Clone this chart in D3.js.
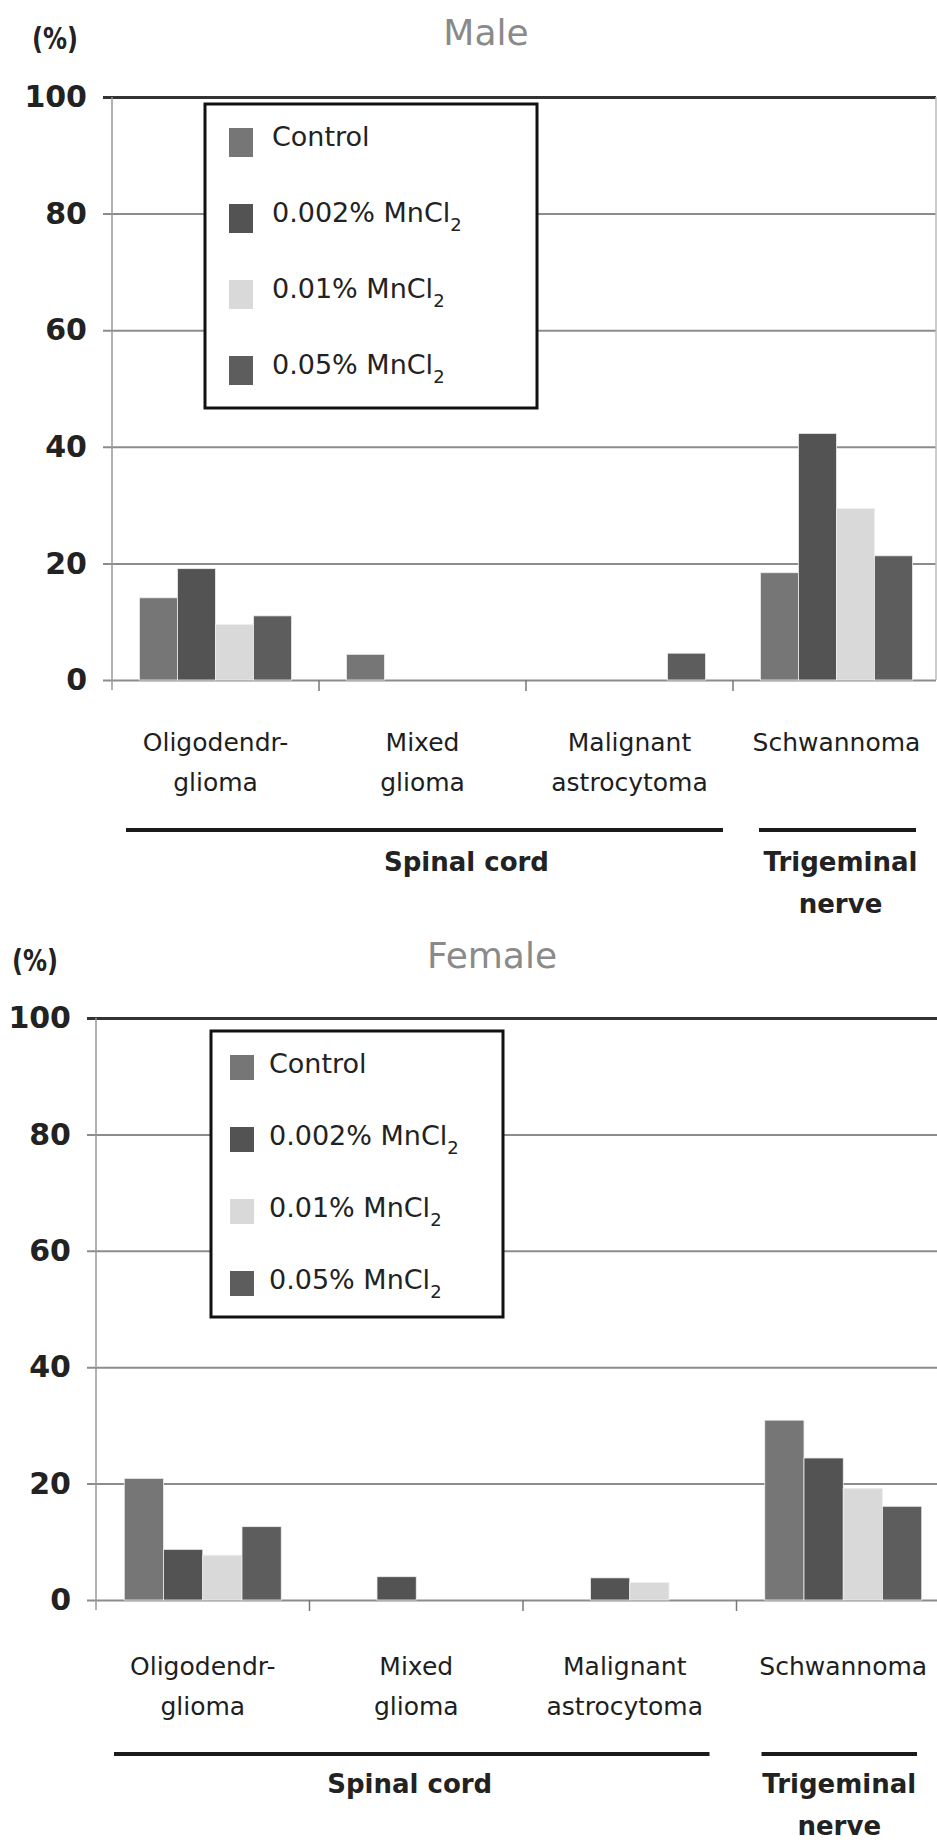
<!DOCTYPE html>
<html>
<head>
<meta charset="utf-8">
<script src="https://cdn.jsdelivr.net/npm/d3@7"></script>
<style>
  body { margin: 0; background: #fff; }
  svg { display: block; }
</style>
</head>
<body>
<svg id="chart" width="937" height="1843"></svg>
<script>
// --- DATA ---
const categories = ["Oligodendr-glioma", "Mixed glioma", "Malignant astrocytoma", "Schwannoma"];
const categoryLabels = [["Oligodendr-", "glioma"], ["Mixed", "glioma"], ["Malignant", "astrocytoma"], ["Schwannoma"]];
const seriesNames = ["Control", "0.002% MnCl", "0.01% MnCl", "0.05% MnCl"];
const seriesSub = ["", "2", "2", "2"];
const yTicks = [0, 20, 40, 60, 80, 100];

const maleControl = [14.1, 4.4, 0, 18.4];
const male002 = [19.1, 0, 0, 42.3];
const male001 = [9.5, 0, 0, 29.4];
const male005 = [11.0, 0, 4.6, 21.3];

const femaleControl = [20.9, 0, 0, 30.9];
const female002 = [8.7, 4.0, 3.8, 24.4];
const female001 = [7.7, 0, 3.0, 19.2];
const female005 = [12.6, 0, 0, 16.1];

const groupNames = [["Spinal cord"], ["Trigeminal", "nerve"]];
const groupSpans = [[0, 2], [3, 3]];

const colors = ["#767676", "#535353", "#d9d9d9", "#5d5d5d"];
const FONT = "'DejaVu Sans', Verdana, sans-serif";

const svg = d3.select("#chart");

function drawPanel(p) {
  const g = svg.append("g");

  const x = d3.scaleBand().domain(categories).range([p.left, p.right]).padding(0);
  const xs = d3.scaleBand().domain(seriesNames).range([0, x.bandwidth()]).paddingInner(0).paddingOuter(0.72);
  const y = d3.scaleLinear().domain([0, 100]).range([p.bottom, p.top]);

  // --- TITLE + UNIT ---
  g.append("text")
    .attr("x", p.titleX).attr("y", p.titleY)
    .attr("text-anchor", "middle")
    .attr("font-family", FONT).attr("font-size", 36)
    .attr("fill", "#8a8a8a")
    .text(p.title);

  g.append("text")
    .attr("x", p.unitX).attr("y", p.unitY)
    .attr("font-family", FONT).attr("font-size", 31).attr("font-weight", "bold")
    .attr("fill", "#222")
    .attr("textLength", 46).attr("lengthAdjust", "spacingAndGlyphs")
    .text("(%)");

  // --- GRID / Y AXIS ---
  const yAxis = g.append("g")
    .attr("transform", `translate(${p.left},0)`)
    .call(d3.axisLeft(y).tickValues(yTicks).tickSize(-(p.border - p.left)).tickPadding(25));

  yAxis.select(".domain").remove();
  yAxis.selectAll(".tick line")
    .attr("x1", -9)
    .attr("stroke", d => d === 100 ? "#333" : "#8c8c8c")
    .attr("stroke-width", d => d === 100 ? 3 : 2);
  yAxis.selectAll(".tick text")
    .attr("font-family", FONT).attr("font-size", 30).attr("font-weight", "bold")
    .attr("fill", "#222");

  // left axis + right border
  g.append("line")
    .attr("x1", p.left).attr("x2", p.left)
    .attr("y1", p.top).attr("y2", p.bottom + 10)
    .attr("stroke", "#999").attr("stroke-width", 1.5);
  if (p.showBorder) {
    g.append("line")
      .attr("x1", p.border).attr("x2", p.border)
      .attr("y1", p.top).attr("y2", p.bottom)
      .attr("stroke", "#bbb").attr("stroke-width", 1.5);
  }

  // category boundary ticks
  g.selectAll(".ctick")
    .data(categories.slice(1))
    .enter().append("line")
    .attr("x1", d => x(d)).attr("x2", d => x(d))
    .attr("y1", p.bottom).attr("y2", p.bottom + 11)
    .attr("stroke", "#777").attr("stroke-width", 1.5);

  // --- BARS ---
  p.values.forEach((vals, si) => {
    g.append("g")
      .selectAll("rect")
      .data(vals.map((v, i) => ({ v, cat: categories[i] })).filter(d => d.v > 0))
      .enter().append("rect")
      .attr("x", d => x(d.cat) + xs(seriesNames[si]))
      .attr("y", d => y(d.v))
      .attr("width", xs.bandwidth())
      .attr("height", d => y(0) - y(d.v))
      .attr("fill", colors[si])
      .attr("stroke", "#eeeeee")
      .attr("stroke-width", 0.8);
  });

  // --- LEGEND ---
  const L = p.legend;
  const leg = g.append("g");
  leg.append("rect")
    .attr("x", L.x).attr("y", L.y).attr("width", L.w).attr("height", L.h)
    .attr("fill", "#fff").attr("stroke", "#111").attr("stroke-width", 3);
  seriesNames.forEach((name, i) => {
    const by = L.first + i * L.step;
    leg.append("rect")
      .attr("x", L.swX).attr("y", by - 18)
      .attr("width", 24).attr("height", L.swH)
      .attr("fill", colors[i]);
    const t = leg.append("text")
      .attr("x", L.textX).attr("y", by)
      .attr("font-family", FONT).attr("font-size", 27)
      .attr("fill", "#222")
      .text(name);
    if (seriesSub[i]) {
      t.append("tspan").attr("dy", 9).attr("font-size", 18).text(seriesSub[i]);
    }
  });

  // --- CATEGORY LABELS ---
  categories.forEach((c, i) => {
    const cx = x(c) + x.bandwidth() / 2 + p.catDx[i];
    const t = g.append("text")
      .attr("y", p.labelY)
      .attr("text-anchor", "middle")
      .attr("font-family", FONT).attr("font-size", 25)
      .attr("fill", "#1e1e1e");
    categoryLabels[i].forEach((line, li) => {
      t.append("tspan")
        .attr("x", cx)
        .attr("dy", li === 0 ? 0 : 40)
        .text(line);
    });
  });

  // --- GROUP LINES + LABELS ---
  groupSpans.forEach((span, gi) => {
    const gx0 = x(categories[span[0]]) + p.groupInset[gi][0];
    const gx1 = x(categories[span[1]]) + x.bandwidth() - p.groupInset[gi][1];
    g.append("line")
      .attr("x1", gx0).attr("x2", gx1)
      .attr("y1", p.lineY).attr("y2", p.lineY)
      .attr("stroke", "#1a1a1a").attr("stroke-width", 4);
    const t = g.append("text")
      .attr("y", p.groupLabelY)
      .attr("text-anchor", "middle")
      .attr("font-family", FONT).attr("font-size", 26).attr("font-weight", "bold")
      .attr("fill", "#222");
    groupNames[gi].forEach((line, li) => {
      t.append("tspan")
        .attr("x", (gx0 + gx1) / 2 + p.groupDx[gi])
        .attr("dy", li === 0 ? 0 : 42)
        .text(line);
    });
  });
}

drawPanel({
  title: "Male",
  values: [maleControl, male002, male001, male005],
  left: 112, right: 940, top: 97, bottom: 680, border: 936, showBorder: true,
  titleX: 486, titleY: 45, unitX: 32, unitY: 49,
  legend: { x: 205, y: 104, w: 332, h: 304, swX: 229, textX: 272, first: 146, step: 76, swH: 29 },
  catDx: [0, 0, 0, 0],
  labelY: 751, lineY: 830, groupLabelY: 871,
  groupInset: [[14, 10], [26, 24]],
  groupDx: [42, 3]
});

drawPanel({
  title: "Female",
  values: [femaleControl, female002, female001, female005],
  left: 96, right: 950, top: 1018, bottom: 1600, border: 950, showBorder: false,
  titleX: 492, titleY: 968, unitX: 12, unitY: 971,
  legend: { x: 211, y: 1031, w: 292, h: 286, swX: 230, textX: 269, first: 1073, step: 72, swH: 25 },
  catDx: [0, 0, -5, 0],
  labelY: 1675, lineY: 1754, groupLabelY: 1793,
  groupInset: [[18, 27], [25, 33]],
  groupDx: [-2, 0]
});
</script>
</body>
</html>
